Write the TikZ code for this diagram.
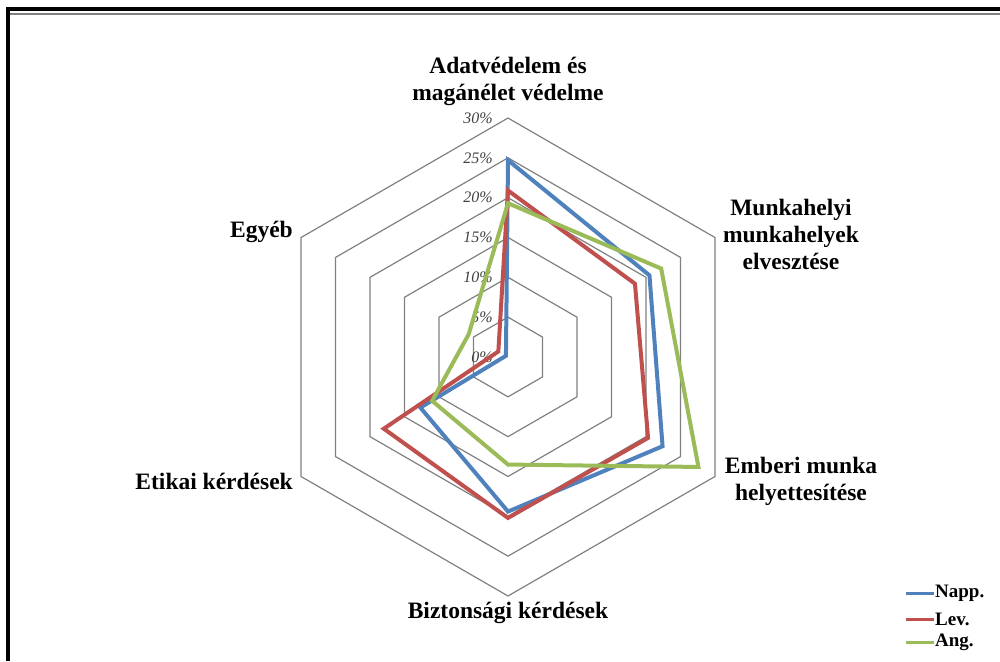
\documentclass[tikz,border=0pt]{standalone}
\usepackage{fontspec}
\setmainfont{Liberation Serif}
\usetikzlibrary{positioning}
\definecolor{napp}{HTML}{4F81BD}
\definecolor{lev}{HTML}{C0504D}
\definecolor{ang}{HTML}{9BBB59}
\definecolor{ringgray}{HTML}{808080}
\definecolor{tickgray}{HTML}{404040}

\begin{document}
\begin{tikzpicture}[x=1pt,y=1pt,
    axislabel/.style={font=\fontsize{23.5}{27}\selectfont\bfseries,align=center,inner sep=0pt},
    ticklabel/.style={font=\fontsize{16}{16}\selectfont\itshape,text=tickgray,anchor=east,inner sep=0pt},
    series/.style={line width=4pt,line join=miter},
    legendlabel/.style={font=\fontsize{19}{19}\selectfont\bfseries,anchor=west,inner sep=1pt}]
  \useasboundingbox (0,0) rectangle (1000,-661);
  \draw[line width=4pt] (8,-661) -- (8,-9.5) -- (1000,-9.5);
  \draw[ringgray,line width=1.8pt] (10,-14.2) -- (1000,-14.2);
  \coordinate (c) at (508,-357);
  \begin{scope}[shift={(c)}]
    \foreach \r in {1,...,6}
      \draw[ringgray,line width=1.2pt] (90:\r*39.83) -- (30:\r*39.83) -- (-30:\r*39.83)
        -- (-90:\r*39.83) -- (210:\r*39.83) -- (150:\r*39.83) -- cycle;
    \foreach \r in {0,...,6}
      \node[ticklabel] (t\r) at (-15,\r*39.83) {\pgfmathparse{int(5*\r)}\pgfmathresult\%};
    \foreach \col/\a/\b/\c/\d/\e/\f in {napp/24.7/20.5/22.4/19.4/12.7/0.3,
        lev/20.9/18.4/20.3/20.2/18/1.4, ang/19.3/22.2/27.6/13.5/11/5.7}
      \draw[series,\col] (90:\a*7.967) -- (30:\b*7.967) -- (-30:\c*7.967)
        -- (-90:\d*7.967) -- (210:\e*7.967) -- (150:\f*7.967) -- cycle;
  \end{scope}
  \node[axislabel] (adat) at (508,-81) {Adatvédelem és\\magánélet védelme};
  \node[axislabel] (munka) at (791,-234) {Munkahelyi\\munkahelyek\\elvesztése};
  \node[axislabel] (emberi) at (801,-481) {Emberi munka\\helyettesítése};
  \node[axislabel] (bizt) at (508,-613) {Biztonsági kérdések};
  \node[axislabel,anchor=east] (etikai) at (293,-481) {Etikai kérdések};
  \node[axislabel,anchor=east] (egyeb) at (293,-232) {Egyéb};
  \node[legendlabel] (lnapp) at (934,-593) {Napp.};
  \node[legendlabel] (llev) at (934,-619) {Lev.};
  \node[legendlabel] (lang) at (934,-642) {Ang.};
  \draw[napp,line width=3pt] (lnapp.west) -- +(-28,0);
  \draw[lev,line width=3pt] (llev.west) -- +(-28,0);
  \draw[ang,line width=3pt] (lang.west) -- +(-28,0);
\end{tikzpicture}
\end{document}
